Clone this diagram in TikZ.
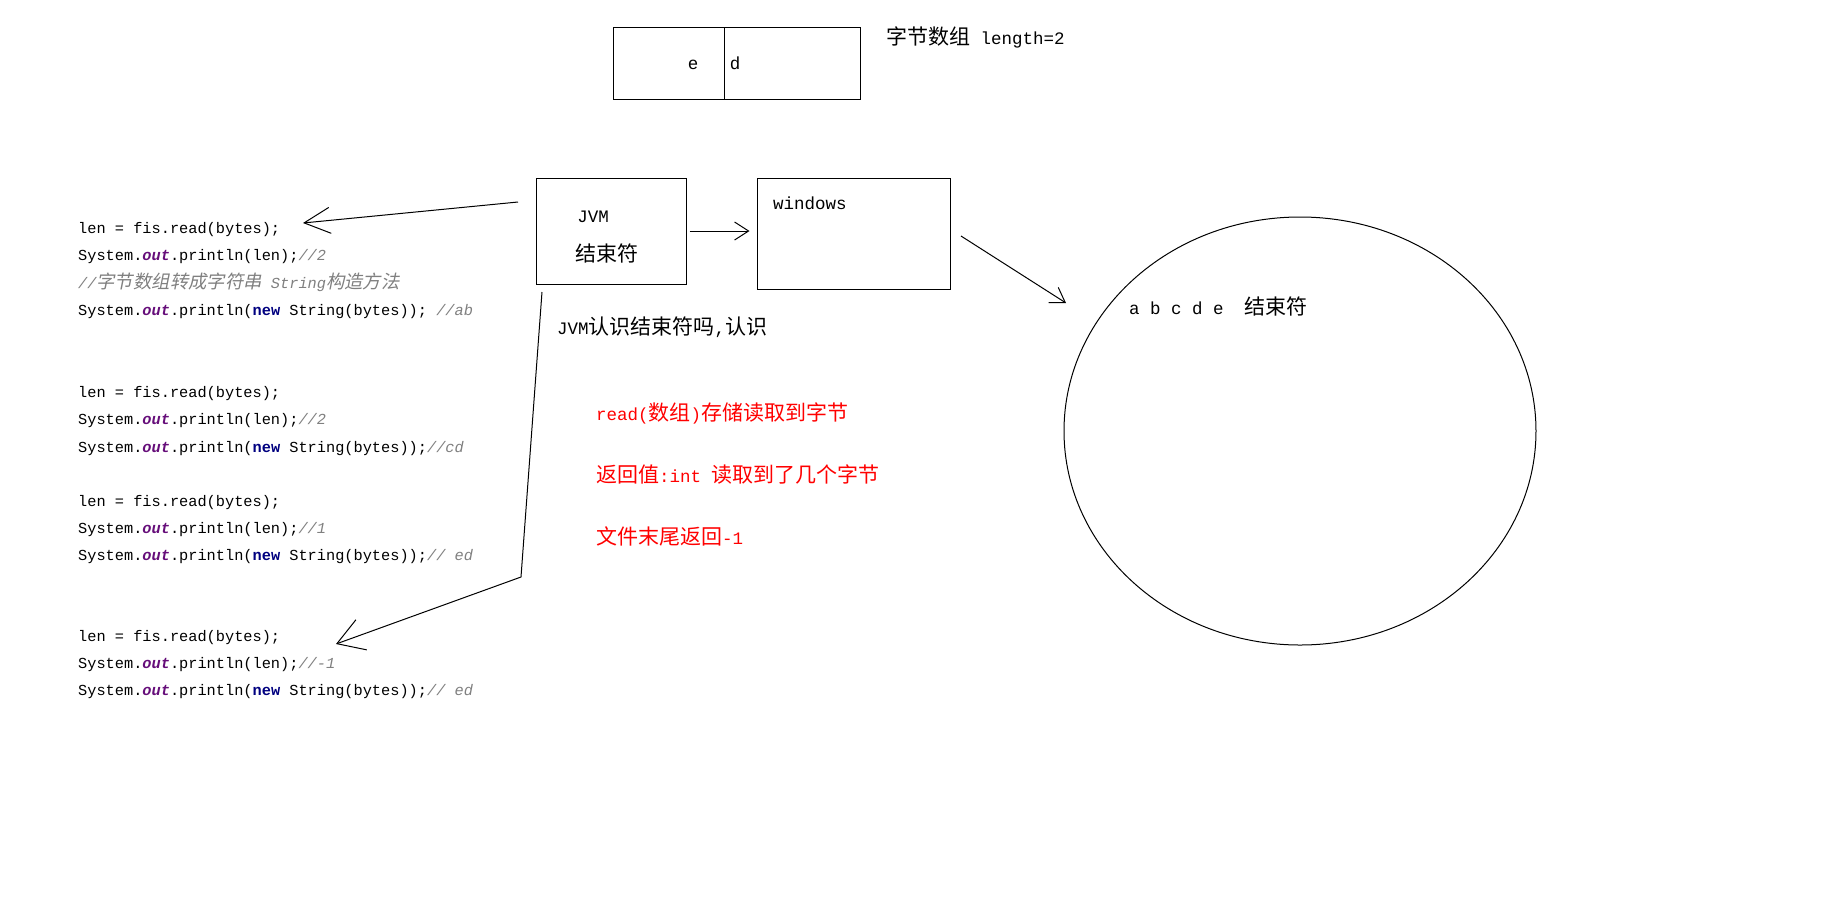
\documentclass[tikz,border=0pt]{standalone}
\usepackage{fontspec}
\setmainfont{Liberation Mono}
\newfontfamily\cjk{Noto Sans CJK SC}[Scale=1.2,AutoFakeSlant=0.2]
\usetikzlibrary{arrows.meta,shapes.geometric}

\definecolor{outpurple}{RGB}{102,14,122}
\definecolor{newnavy}{RGB}{0,0,128}
\definecolor{cmtgray}{RGB}{128,128,128}
\definecolor{notered}{RGB}{255,0,0}

\newcommand{\codesize}{\fontsize{15.3}{18}\selectfont}
\newcommand{\labelsize}{\fontsize{17.5}{21}\selectfont}
\newcommand{\jout}{\textcolor{outpurple}{\textbf{\textit{out}}}}
\newcommand{\jnew}{\textcolor{newnavy}{\textbf{new}}}
\newcommand{\jcmt}[1]{\textcolor{cmtgray}{\textit{#1}}}

\tikzset{
  box/.style={draw, line width=1pt, inner sep=0pt},
  txt/.style={inner sep=0pt, font=\labelsize},
  codeline/.style={anchor=base west, inner sep=0pt, font=\codesize},
  rednote/.style={anchor=base west, inner sep=0pt, font=\labelsize, text=notered},
  bigbarb/.style={line width=1pt, -{Straight Barb[length=26pt,width=26pt]}},
  smallbarb/.style={line width=1pt, -{Straight Barb[length=14pt,width=18pt]}},
}

\begin{document}
\begin{tikzpicture}[x=1pt, y=-1pt]
\fill[white] (0,0) rectangle (1848,906);
\useasboundingbox (0,0) rectangle (1848,906);

% byte array
\node[box, minimum width=111pt, minimum height=72pt] (cellL) at (668.5,63) {};
\node[box, minimum width=136pt, minimum height=72pt] (cellR) at (792,63) {};
\node[txt, anchor=base] (e) at (693,69) {e};
\node[txt, anchor=base] (d) at (735,69) {d};
\node[txt, anchor=base west] (arrlen) at (886,44) {{\cjk 字节数组} length=2};

% jvm and windows
\node[box, minimum width=150pt, minimum height=106pt] (jvm) at (611,231) {};
\node[txt] (jvmname) at (593,217) {JVM};
\node[txt] (jvmend) at (607,253) {{\cjk 结束符}};
\node[box, minimum width=193pt, minimum height=111pt] (win) at (853.5,233.5) {};
\node[txt, anchor=base west] (winname) at (773,209) {windows};
\node[txt, anchor=base west] (question) at (557,334) {JVM{\cjk 认识结束符吗},{\cjk 认识}};

% file on disk
\node[box, ellipse, minimum width=472pt, minimum height=428pt] (disk) at (1300,431) {};
\node[txt, anchor=base west] (bytes) at (1129,314) {a b c d e\ \ {\cjk 结束符}};

% code
\node[codeline] (r1a) at (78,233) {len = fis.read(bytes);};
\node[codeline] (r1b) at (78,260) {System.\jout.println(len);\jcmt{//2}};
\node[codeline] (r1c) at (78,288) {\jcmt{//{\cjk 字节数组转成字符串} String{\cjk 构造方法}}};
\node[codeline] (r1d) at (78,315) {System.\jout.println(\jnew\ String(bytes)); \jcmt{//ab}};

\node[codeline] (r2a) at (78,397) {len = fis.read(bytes);};
\node[codeline] (r2b) at (78,424) {System.\jout.println(len);\jcmt{//2}};
\node[codeline] (r2c) at (78,452) {System.\jout.println(\jnew\ String(bytes));\jcmt{//cd}};

\node[codeline] (r3a) at (78,506) {len = fis.read(bytes);};
\node[codeline] (r3b) at (78,533) {System.\jout.println(len);\jcmt{//1}};
\node[codeline] (r3c) at (78,560) {System.\jout.println(\jnew\ String(bytes));\jcmt{// ed}};

\node[codeline] (r4a) at (78,641) {len = fis.read(bytes);};
\node[codeline] (r4b) at (78,668) {System.\jout.println(len);\jcmt{//-1}};
\node[codeline] (r4c) at (78,695) {System.\jout.println(\jnew\ String(bytes));\jcmt{// ed}};

% notes
\node[rednote] (note1) at (596,420) {read({\cjk 数组}){\cjk 存储读取到字节}};
\node[rednote] (note2) at (596,482) {{\cjk 返回值}:int {\cjk 读取到了几个字节}};
\node[rednote] (note3) at (596,544) {{\cjk 文件末尾返回}-1};

% arrows
\coordinate (jvmtail) at (518,202);
\coordinate (readtip) at (303,223);
\draw[bigbarb] (jvmtail) -- (readtip);
\draw[smallbarb, shorten <=3pt, shorten >=7pt] (jvm.east) -- (jvm.east -| win.west);
\coordinate (wintail) at (961,236);
\coordinate (disktip) at (1066,303);
\draw[smallbarb] (wintail) -- (disktip);
\coordinate (jvmdrop) at (542,292);
\coordinate (dropbend) at (521,577);
\coordinate (lasttip) at (336,644);
\draw[line width=1pt, -{Straight Barb[length=26pt,width=32pt]}] (jvmdrop) -- (dropbend) -- (lasttip);
\end{tikzpicture}
\end{document}
